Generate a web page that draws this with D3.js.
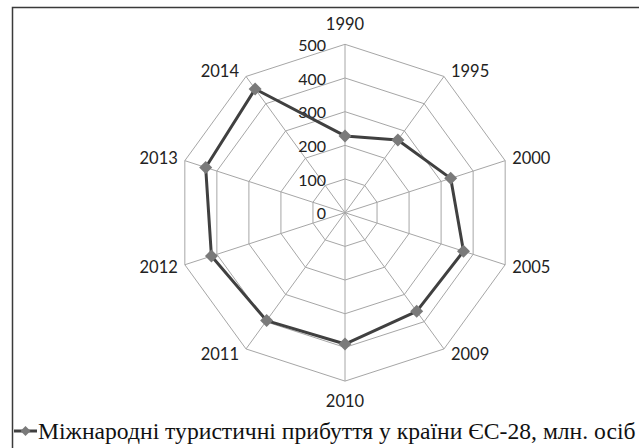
<!DOCTYPE html>
<html>
<head>
<meta charset="utf-8">
<script src="https://cdn.jsdelivr.net/npm/d3@7"></script>
<style>
  body { margin: 0; background: #fff; }
  svg { display: block; }
  .legend-text { font-family: "Liberation Serif", "DejaVu Serif", "Times New Roman", Times, serif; }
</style>
</head>
<body>
<svg id="chart"></svg>
<script>
const width = 639;
const height = 448;

// Data
const years = ["1990", "1995", "2000", "2005", "2009", "2010", "2011", "2012", "2013", "2014"];
const arrivals = [228, 267, 330, 370, 362, 390, 396, 417, 435, 454];
const ticks = [0, 100, 200, 300, 400, 500];
const seriesName = "Міжнародні туристичні прибуття у країни ЄС-28, млн. осіб";

const cx = 345, cy = 212.7; // centre of the radar
const radius = 168.4;

const svg = d3.select("#chart")
    .attr("width", width)
    .attr("height", height);

// outer frame (cut off at right and bottom like the source)
svg.append("path")
    .attr("d", `M12.5,${height + 2} L12.5,7.5 L${width + 2},7.5`)
    .attr("fill", "none")
    .attr("stroke", "#3a3a3a")
    .attr("stroke-width", 1.5);

const r = d3.scaleLinear().domain([0, 500]).range([0, radius]);
const angle = d3.scalePoint().domain(years).range([0, 2 * Math.PI * (years.length - 1) / years.length]);

const pt = (year, v) => {
    const a = angle(year);
    return [cx + r(v) * Math.sin(a), cy - r(v) * Math.cos(a)];
};

const g = svg.append("g");

// rings
g.selectAll(".ring")
    .data(ticks.filter(t => t > 0))
    .join("polygon")
    .attr("class", "ring")
    .attr("points", t => years.map(y => pt(y, t).join(",")).join(" "))
    .attr("fill", "none")
    .attr("stroke", "#a6a6a6")
    .attr("stroke-width", 1);

// spokes
g.selectAll(".spoke")
    .data(years)
    .join("line")
    .attr("class", "spoke")
    .attr("x1", cx).attr("y1", cy)
    .attr("x2", d => pt(d, 500)[0])
    .attr("y2", d => pt(d, 500)[1])
    .attr("stroke", "#a6a6a6")
    .attr("stroke-width", 1);

// tick labels
g.selectAll(".tick")
    .data(ticks)
    .join("text")
    .attr("class", "tick")
    .attr("x", cx - 19)
    .attr("y", t => cy - r(t) + 1)
    .attr("dy", "0.35em")
    .attr("text-anchor", "end")
    .style("font-family", "Lato, 'Open Sans', sans-serif")
    .style("font-size", "16px")
    .style("fill", "#222")
    .text(t => t);

// category labels
g.selectAll(".cat")
    .data(years)
    .join("text")
    .attr("class", "cat")
    .each(function (d) {
        const a = angle(d);
        const sx = Math.sin(a), sy = -Math.cos(a);
        const [vx, vy] = pt(d, 500);
        const side = Math.abs(sx) > 0.01;
        d3.select(this)
            .attr("x", side ? vx + 7 * Math.sign(sx) : vx)
            .attr("y", side ? vy + 7 * sy : vy + 20 * sy)
            .attr("text-anchor", side ? (sx > 0 ? "start" : "end") : "middle");
    })
    .attr("dy", "0.35em")
    .style("font-family", "Lato, 'Open Sans', sans-serif")
    .style("font-size", "16.5px")
    .style("fill", "#222")
    .text(d => d);

// series line
const line = d3.line().curve(d3.curveLinearClosed);
g.append("path")
    .datum(years.map((y, i) => pt(y, arrivals[i])))
    .attr("d", line)
    .attr("fill", "none")
    .attr("stroke", "#404040")
    .attr("stroke-width", 3)
    .attr("stroke-linejoin", "round");

const diamond = "M0,-6.5L6.5,0L0,6.5L-6.5,0Z";
g.selectAll(".marker")
    .data(years)
    .join("path")
    .attr("class", "marker")
    .attr("d", diamond)
    .attr("transform", (d, i) => `translate(${pt(d, arrivals[i]).join(",")})`)
    .attr("fill", "#7a7a7a");

// legend
const legend = svg.append("g").attr("transform", "translate(0,431)");
legend.append("line")
    .attr("x1", 14).attr("x2", 37)
    .attr("stroke", "#404040")
    .attr("stroke-width", 3);
legend.append("path")
    .attr("d", "M0,-5L5,0L0,5L-5,0Z")
    .attr("transform", "translate(25.5,0)")
    .attr("fill", "#7a7a7a");
const legendText = legend.append("text")
    .attr("class", "legend-text")
    .attr("x", 38)
    .attr("dy", "0.33em")
    .style("font-size", "21px")
    .style("fill", "#111")
    .text(seriesName);

// fit legend text to the width it has in the source
const w = legendText.node().getComputedTextLength();
legendText.style("font-size", (21 * 598 / w).toFixed(2) + "px");
</script>
</body>
</html>
